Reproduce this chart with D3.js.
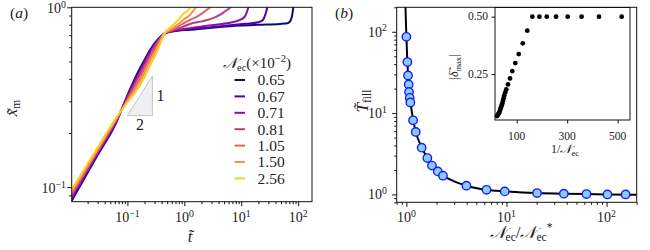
<!DOCTYPE html>
<html><head><meta charset="utf-8">
<script src="https://cdn.jsdelivr.net/npm/d3@7"></script>
<style>
body{margin:0;background:#fff}
svg{display:block}
</style>
</head><body>
<svg id="c" width="650" height="250"></svg>
<script>
// ---------- Panel (a) data ----------
const legendLabels = ["0.65","0.67","0.71","0.81","1.05","1.50","2.56"];
const earlyT = [0.0105,0.03,0.06,0.1,0.15,0.2,0.25,0.33,0.45];
const x065early = [0.084,0.151,0.220,0.324,0.430,0.510,0.580,0.655,0.715];
const x067early = [0.086,0.153,0.222,0.320,0.420,0.500,0.570,0.650,0.715];
const x071early = [0.088,0.155,0.225,0.316,0.410,0.490,0.560,0.642,0.716];
const x081early = [0.090,0.158,0.228,0.311,0.400,0.475,0.545,0.632,0.716];
const x105early = [0.092,0.160,0.231,0.305,0.380,0.455,0.525,0.615,0.717];
const x150early = [0.095,0.163,0.234,0.300,0.365,0.430,0.500,0.590,0.717];
const x256early = [0.097,0.166,0.237,0.296,0.350,0.410,0.474,0.565,0.717];

const t065late = [0.6,0.8,1.25,3,6.3,20,48,65,72,77,80,82,84];
const x065late = [0.733,0.742,0.750,0.770,0.785,0.800,0.808,0.815,0.835,0.880,0.940,1.0,1.05];
const t067late = [0.6,0.8,1.25,3,6.3,12,20,24,26.5,28.7,29.5];
const x067late = [0.735,0.745,0.757,0.775,0.795,0.810,0.825,0.850,0.910,1.0,1.05];
const t071late = [0.6,0.8,1.25,3,6.3,9.5,11.6,12.7,13.3,13.7];
const x071late = [0.737,0.750,0.766,0.795,0.820,0.850,0.890,0.950,1.0,1.05];
const t081late = [0.6,0.8,1.0,1.25,2,3.2,4.5,5.6,6.4,6.7];
const x081late = [0.742,0.765,0.785,0.808,0.835,0.870,0.920,0.965,1.0,1.03];
const t105late = [0.6,0.8,1.0,1.25,1.7,2.2,2.6,2.85,3.0];
const x105late = [0.750,0.785,0.820,0.850,0.890,0.940,0.980,1.0,1.02];
const t150late = [0.6,0.8,1.0,1.25,1.45,1.6,1.7];
const x150late = [0.760,0.810,0.860,0.906,0.960,1.0,1.03];
const t256late = [0.6,0.8,1.0,1.25,1.32];
const x256late = [0.785,0.860,0.930,0.987,1.02];

const aXTicks = [0.1,1,10,100];
const aXTickExp = ["\u22121","0","1","2"];
const aYTicks = [0.1,1];
const aYTickExp = ["\u22121","0"];

// ---------- Panel (b) data ----------
const ratioPts = [1.00,1.023,1.038,1.054,1.062,1.079,1.096,1.165,1.239,1.42,1.62,1.80,2.06,2.32,3.98,6.31,9.6,20.2,37.4,63,102,155];
const fillPts  = [86.8,42.4,29.0,22.5,18.2,15.4,13.5,8.16,5.86,3.76,2.80,2.26,1.92,1.70,1.28,1.14,1.09,1.04,1.02,1.01,1.00,1.00];
const curveRatio = [0.978,0.99,1.0,1.02,1.04,1.06,1.1,1.17,1.24,1.42,1.62,1.8,2.06,2.32,3.0,4.0,6.3,9.6,20,37,63,100,200];
const curveFill  = [210,125,88,45,29,20,13.5,8.2,5.9,3.8,2.8,2.26,1.92,1.70,1.45,1.28,1.14,1.09,1.04,1.02,1.01,1.0,0.99];
const bTicks = [1,10,100];
const bTickExp = ["0","1","2"];

// ---------- Inset data ----------
const invN  = [22,24.5,27,29.8,32.6,35,37.8,40.4,43,45.7,48.2,50.8,54.8,58.8,65.5,73.4,82.6,94.5,108,124,142,162,190,219,256,302,357,426,516];
const delta = [0.067,0.071,0.076,0.081,0.087,0.096,0.105,0.114,0.122,0.134,0.145,0.157,0.170,0.183,0.205,0.231,0.263,0.298,0.337,0.384,0.439,0.5,0.5,0.5,0.5,0.5,0.5,0.5,0.5];
const insetXTicks = [100,300,500];
const insetYTicks = [0.25,0.5];
const insetYLabels = ["0.25","0.50"];

// ---------- font detection (pick an installed serif face) ----------
function pickFont(cands){
  const c = document.createElement("canvas").getContext("2d");
  const s = "mmmmmmmmmmlli0123456789WQ";
  const base = ["monospace","sans-serif"].map(b=>{c.font="40px "+b; return c.measureText(s).width;});
  for(const f of cands){
    const ws = ["monospace","sans-serif"].map(b=>{c.font=`40px "${f}", ${b}`; return c.measureText(s).width;});
    if(ws[0]!==base[0] && ws[1]!==base[1]) return `"${f}"`;
  }
  return "serif";
}
const FONT = pickFont(["Liberation Serif","DejaVu Serif","Noto Serif","Times New Roman","Tinos","FreeSerif","Nimbus Roman","Nimbus Roman No9 L","C059","Georgia"]) + ", serif";

// ---------- Drawing ----------
const svg = d3.select("#c");
const colors = legendLabels.map((d,i)=>d3.interpolatePlasma(i*0.9/6));

function txt(g){ return g.append("text").attr("font-family",FONT).attr("fill","#222"); }
function minorLog(lo,hi){
  const out=[];
  for(let e=Math.floor(Math.log10(lo));e<=Math.ceil(Math.log10(hi));e++)
    for(let k=2;k<=9;k++){const v=k*Math.pow(10,e); if(v>=lo&&v<=hi) out.push(v);}
  return out;
}
function powLabel(g,x,y,exp,anchor,size){
  const t=txt(g).attr("x",x).attr("y",y).attr("text-anchor",anchor).attr("font-size",size);
  t.append("tspan").text("10");
  t.append("tspan").attr("dy",-size*0.38).attr("font-size",size*0.7).text(exp);
  return t;
}
function styleAxis(g){ g.select(".domain").remove(); g.selectAll("line").attr("stroke","#111"); }

// ===== Panel (a) =====
const xA = d3.scaleLog().domain([0.0105,175]).range([71.7,312]);
const yA = d3.scaleLog().domain([0.083,1]).range([201.7,7.3]);
const gA = svg.append("g");
svg.append("clipPath").attr("id","clipA").append("rect")
  .attr("x",xA.range()[0]).attr("y",yA.range()[1]).attr("width",xA.range()[1]-xA.range()[0]).attr("height",yA.range()[0]-yA.range()[1]);

// slope triangle
const triT0=0.1, triT1=0.275, triX0=0.25, triX1=0.415;
gA.append("path").attr("d",`M${xA(triT0)},${yA(triX0)}L${xA(triT1)},${yA(triX0)}L${xA(triT1)},${yA(triX1)}Z`)
  .attr("fill","#efefef").attr("stroke","#c4c4c4").attr("stroke-width",1);
txt(gA).attr("x",xA(triT1)+4).attr("y",(yA(triX0)+yA(triX1))/2+5).attr("font-size",16).text("1");
txt(gA).attr("x",(xA(triT0)+xA(triT1))/2).attr("y",yA(triX0)+14).attr("text-anchor","middle").attr("font-size",16).text("2");

const seriesA = [
  [x065early,t065late,x065late],[x067early,t067late,x067late],[x071early,t071late,x071late],
  [x081early,t081late,x081late],[x105early,t105late,x105late],[x150early,t150late,x150late],[x256early,t256late,x256late]
];
const lineA = d3.line().x(d=>xA(d[0])).y(d=>yA(d[1])).curve(d3.curveMonotoneX);
const gLines = gA.append("g").attr("clip-path","url(#clipA)");
seriesA.forEach((s,i)=>{
  const pts = earlyT.map((t,j)=>[t,s[0][j]]).concat(s[1].map((t,j)=>[t,s[2][j]]));
  gLines.append("path").attr("d",lineA(pts)).attr("fill","none").attr("stroke",colors[i]).attr("stroke-width",2);
});

// axes (a)
const axAx = gA.append("g").attr("transform",`translate(0,${yA.range()[0]})`);
axAx.append("g").call(d3.axisBottom(xA).tickValues(aXTicks).tickSize(4.5).tickFormat("")).call(styleAxis);
axAx.append("g").call(d3.axisBottom(xA).tickValues(minorLog(0.0105,175)).tickSize(2.5).tickFormat("")).call(styleAxis);
aXTicks.forEach((v,i)=>powLabel(gA,xA(v),222,aXTickExp[i],"middle",14));
const axAy = gA.append("g").attr("transform",`translate(${xA.range()[0]},0)`);
axAy.append("g").call(d3.axisLeft(yA).tickValues(aYTicks).tickSize(4.5).tickFormat("")).call(styleAxis);
axAy.append("g").call(d3.axisLeft(yA).tickValues(minorLog(0.083,1)).tickSize(2.5).tickFormat("")).call(styleAxis);
aYTicks.forEach((v,i)=>powLabel(gA,66,yA(v)+6,aYTickExp[i],"end",14));
gA.append("rect").attr("x",xA.range()[0]).attr("y",yA.range()[1]).attr("width",xA.range()[1]-xA.range()[0]).attr("height",yA.range()[0]-yA.range()[1])
  .attr("fill","none").attr("stroke","#111").attr("stroke-width",1);

// legend (a)
const lg = gA.append("g");
const tt = txt(lg).attr("x",223).attr("y",68).attr("font-size",15);
tt.append("tspan").attr("font-style","italic").text("\uD835\uDCA9");
tt.append("tspan").attr("dy",3).attr("font-size",10.5).text("ec");
tt.append("tspan").attr("dy",-3).text("(\u00D710");
tt.append("tspan").attr("dy",-6).attr("font-size",10.5).text("\u22122");
tt.append("tspan").attr("dy",6).text(")");
legendLabels.forEach((l,i)=>{
  const y = 80 + i*16.4;
  lg.append("line").attr("x1",234.5).attr("x2",245).attr("y1",y).attr("y2",y).attr("stroke",colors[i]).attr("stroke-width",2);
  txt(lg).attr("x",257.5).attr("y",y+5.3).attr("font-size",15.5).text(l);
});

// labels (a)
const la = txt(gA).attr("x",19).attr("y",18).attr("text-anchor","middle").attr("font-size",15.5);
la.append("tspan").text("(");
la.append("tspan").attr("font-style","italic").text("a");
la.append("tspan").text(")");
const ylA = txt(gA).attr("transform","translate(17,108) rotate(-90)").attr("text-anchor","middle").attr("font-size",17);
ylA.append("tspan").attr("font-style","italic").text("x\u0303");
ylA.append("tspan").attr("dy",3).attr("font-size",11.5).text("m");
txt(gA).attr("x",190).attr("y",242).attr("text-anchor","middle").attr("font-size",17).attr("font-style","italic").text("t\u0303");

// ===== Panel (b) =====
const xB = d3.scaleLog().domain([0.8,200]).range([396.7,636.7]);
const yB = d3.scaleLog().domain([0.8,200]).range([202.3,7.3]);
const gB = svg.append("g");
svg.append("clipPath").attr("id","clipB").append("rect")
  .attr("x",xB.range()[0]).attr("y",yB.range()[1]).attr("width",xB.range()[1]-xB.range()[0]).attr("height",yB.range()[0]-yB.range()[1]);
const lineB = d3.line().x(d=>xB(d[0])).y(d=>yB(d[1])).curve(d3.curveMonotoneX);
gB.append("path").attr("clip-path","url(#clipB)").attr("d",lineB(curveRatio.map((r,i)=>[r,curveFill[i]])))
  .attr("fill","none").attr("stroke","#000").attr("stroke-width",2);
gB.append("g").selectAll("circle").data(ratioPts.map((r,i)=>[r,fillPts[i]])).join("circle")
  .attr("cx",d=>xB(d[0])).attr("cy",d=>yB(d[1])).attr("r",4.2)
  .attr("fill","#87cefa").attr("stroke","#1a1aff").attr("stroke-width",1.4);

const axBx = gB.append("g").attr("transform",`translate(0,${yB.range()[0]})`);
axBx.append("g").call(d3.axisBottom(xB).tickValues(bTicks).tickSize(4.5).tickFormat("")).call(styleAxis);
axBx.append("g").call(d3.axisBottom(xB).tickValues(minorLog(0.8,200)).tickSize(2.5).tickFormat("")).call(styleAxis);
bTicks.forEach((v,i)=>powLabel(gB,xB(v),222,bTickExp[i],"middle",14));
const axBy = gB.append("g").attr("transform",`translate(${xB.range()[0]},0)`);
axBy.append("g").call(d3.axisLeft(yB).tickValues(bTicks).tickSize(4.5).tickFormat("")).call(styleAxis);
axBy.append("g").call(d3.axisLeft(yB).tickValues(minorLog(0.8,200)).tickSize(2.5).tickFormat("")).call(styleAxis);
bTicks.forEach((v,i)=>powLabel(gB,387,yB(v)+5,bTickExp[i],"end",14));
gB.append("rect").attr("x",xB.range()[0]).attr("y",yB.range()[1]).attr("width",xB.range()[1]-xB.range()[0]).attr("height",yB.range()[0]-yB.range()[1])
  .attr("fill","none").attr("stroke","#111").attr("stroke-width",1);

const lb = txt(gB).attr("x",344).attr("y",18).attr("text-anchor","middle").attr("font-size",15.5);
lb.append("tspan").text("(");
lb.append("tspan").attr("font-style","italic").text("b");
lb.append("tspan").text(")");
const ylB = txt(gB).attr("transform","translate(368,101) rotate(-90)").attr("text-anchor","middle").attr("font-size",17);
ylB.append("tspan").attr("font-style","italic").text("T\u0303");
ylB.append("tspan").attr("dy",3).attr("font-size",11.5).text("fill");
const xlB = txt(gB).attr("x",521).attr("y",238).attr("text-anchor","middle").attr("font-size",17);
xlB.append("tspan").attr("font-style","italic").text("\uD835\uDCA9");
xlB.append("tspan").attr("dy",3).attr("font-size",11.5).text("ec");
xlB.append("tspan").attr("dy",-3).text("/");
xlB.append("tspan").attr("font-style","italic").text("\uD835\uDCA9");
xlB.append("tspan").attr("dy",3).attr("font-size",11.5).text("ec");
xlB.append("tspan").attr("dy",-10).attr("font-size",11.5).text("*");

// ===== Inset =====
const xI = d3.scaleLinear().domain([14,549]).range([495,630]);
const yI = d3.scaleLinear().domain([0.05,0.54]).range([120,7.5]);
const gI = svg.append("g");
gI.append("rect").attr("x",495).attr("y",7.5).attr("width",135).attr("height",112.5).attr("fill","#fff").attr("stroke","#111").attr("stroke-width",1);
gI.append("g").selectAll("circle").data(invN.map((v,i)=>[v,delta[i]])).join("circle")
  .attr("cx",d=>xI(d[0])).attr("cy",d=>yI(d[1])).attr("r",2.4).attr("fill","#000");
gI.append("g").attr("transform","translate(0,120)").call(d3.axisBottom(xI).tickValues(insetXTicks).tickSize(3.5).tickFormat("")).call(styleAxis);
gI.append("g").attr("transform","translate(495,0)").call(d3.axisLeft(yI).tickValues(insetYTicks).tickSize(3.5).tickFormat("")).call(styleAxis);
insetXTicks.forEach(v=>txt(gI).attr("x",xI(v)).attr("y",139.5).attr("text-anchor","middle").attr("font-size",11.5).text(v));
insetYTicks.forEach((v,i)=>txt(gI).attr("x",488).attr("y",yI(v)+3.8).attr("text-anchor","end").attr("font-size",11.5).text(insetYLabels[i]));
const xlI = txt(gI).attr("x",565).attr("y",153).attr("text-anchor","middle").attr("font-size",12);
xlI.append("tspan").text("1/");
xlI.append("tspan").attr("font-style","italic").text("\uD835\uDCA9");
xlI.append("tspan").attr("dy",2.5).attr("font-size",8.5).text("ec");
const ylI = txt(gI).attr("transform","translate(458,67) rotate(-90)").attr("text-anchor","middle").attr("font-size",12);
ylI.append("tspan").text("|");
ylI.append("tspan").attr("font-style","italic").text("\u03B4\u0303");
ylI.append("tspan").attr("dy",2.5).attr("font-size",8.5).text("max");
ylI.append("tspan").attr("dy",-2.5).text("|");
</script>
</body></html>
